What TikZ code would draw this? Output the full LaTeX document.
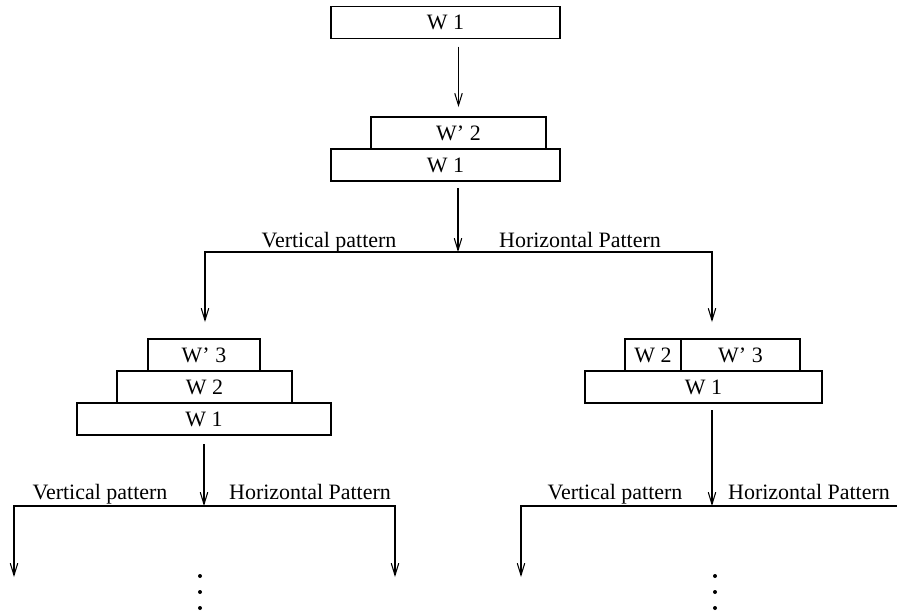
\documentclass[tikz,border=0pt]{standalone}
\usepackage{fontspec}
\setmainfont{Liberation Serif}
\usepackage{tikz}
\usetikzlibrary{arrows.meta}

\tikzset{
    box/.style={draw, line width=0.6pt, minimum height=0.64cm, inner sep=0pt, outer sep=0pt},
    arr/.style={-{Straight Barb[length=2.4mm, width=1.5mm]}, line width=0.6pt},
    branch/.style={anchor=base}
}

\begin{document}
\begin{tikzpicture}[x=0.02cm, y=-0.02cm, line width=0.6pt, font=\fontsize{12.5}{15}\selectfont]
    \useasboundingbox (0,0) rectangle (897,613);

    % Start: one block
    \node[box, minimum width=4.58cm] (topW1) at (445.5,22.5) {W 1};

    % Second block on top
    \node[box, minimum width=3.5cm] (midW2p) at (458.5,133) {W' 2};
    \node[box, minimum width=4.58cm] (midW1) at (445.5,165) {W 1};
    \draw[arr, shorten <=0.16cm, shorten >=0.2cm] (topW1.south -| midW2p.north) -- (midW2p.north);

    % First split
    \coordinate (split1) at (458,252);
    \coordinate (v1) at (205,252);
    \coordinate (h1) at (712,252);
    \draw[arr, shorten <=0.14cm] (midW1.south -| split1) -- (split1);
    \node[branch] (lab1v) at (329,247) {Vertical pattern};
    \node[branch] (lab1h) at (580,247) {Horizontal Pattern};

    % Vertical pattern stack
    \node[box, minimum width=2.24cm] (leftW3p) at (204,355) {W' 3};
    \node[box, minimum width=3.5cm] (leftW2) at (204.5,387) {W 2};
    \node[box, minimum width=5.08cm] (leftW1) at (204,419) {W 1};

    % Horizontal pattern stack
    \node[box, minimum width=1.12cm] (rightW2) at (653,355) {W 2};
    \node[box, minimum width=2.38cm] (rightW3p) at (740.5,355) {W' 3};
    \node[box, minimum width=4.74cm] (rightW1) at (703.5,387) {W 1};

    \draw[arr, shorten >=0.34cm] (split1) -| (v1 |- leftW3p.north);
    \draw[arr, shorten >=0.34cm] (split1) -| (h1 |- rightW3p.north);

    % Next splits
    \coordinate (split2) at (204,506);
    \coordinate (out1) at (14,577);
    \coordinate (out2) at (395,577);
    \draw[arr, shorten <=0.18cm] (leftW1.south) -- (split2);
    \draw[arr] (split2) -| (out1);
    \draw[arr] (split2) -| (out2);
    \node[branch] (lab2v) at (100,499) {Vertical pattern};
    \node[branch] (lab2h) at (310,499) {Horizontal Pattern};

    \coordinate (split3) at (712,506);
    \coordinate (out3) at (521,577);
    \coordinate (out4) at (897,506);
    \draw[arr, shorten <=0.14cm] (rightW1.south -| split3) -- (split3);
    \draw[arr] (split3) -| (out3);
    \draw (split3) -- (out4);
    \node[branch] (lab3v) at (615,499) {Vertical pattern};
    \node[branch] (lab3h) at (809,499) {Horizontal Pattern};

    % Dots
    \fill (200,576) circle (0.04cm);
    \fill (200,592) circle (0.04cm);
    \fill (200,608) circle (0.04cm);
    \fill (715,576) circle (0.04cm);
    \fill (715,592) circle (0.04cm);
    \fill (715,608) circle (0.04cm);
\end{tikzpicture}
\end{document}
